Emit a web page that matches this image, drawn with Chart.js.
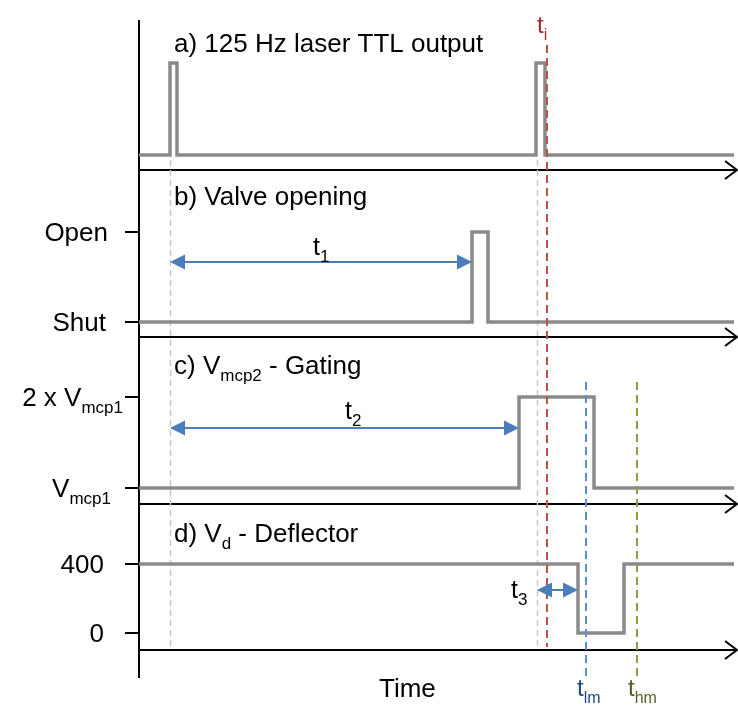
<!DOCTYPE html>
<html>
<head>
<meta charset="utf-8">
<script src="https://cdn.jsdelivr.net/npm/chart.js@4.4.1/dist/chart.umd.min.js"></script>
<style>
  html, body { margin: 0; padding: 0; background: #fff; }
  canvas { display: block; }
</style>
</head>
<body>
<canvas id="timing" width="738" height="707"></canvas>
<script>
// time runs in arbitrary units across the window
const timeMax = 598;

// a) laser TTL output (0 = low, 1 = high)
const ttlTimes = [0, 31, 38, 397, 406, 595];
const ttlLevels = [0, 1, 0, 1, 0, 0];
// b) valve (0 = Shut, 1 = Open)
const valveTimes = [0, 333, 349, 595];
const valveLevels = [0, 1, 0, 0];
// c) Vmcp2 gating, in multiples of Vmcp1
const gateTimes = [0, 380, 455, 595];
const gateLevels = [1, 2, 1, 1];
// d) deflector voltage
const deflTimes = [0, 439, 485, 595];
const deflLevels = [400, 0, 400, 400];

// tick labels on the left
const valveTicks = [1, 0];
const valveTickLabels = ['Open', 'Shut'];
const gateTicks = [2, 1];
const gateTickLabels = ['2 x V_{mcp1}', 'V_{mcp1}'];
const deflTicks = [400, 0];
const deflTickLabels = ['400', '0'];

const panelTitles = ['a) 125 Hz laser TTL output', 'b) Valve opening', 'c) V_{mcp2} - Gating', 'd) V_{d} - Deflector'];

// vertical marker lines
const markerTimes = [31, 398, 408, 447, 498];
const markerLabels = ['', '', 'i', 'lm', 'hm'];

// timing intervals t1, t2, t3
const intervalStart = [31, 31, 398];
const intervalEnd = [333, 380, 439];
const intervalLabels = ['1', '2', '3'];

// ---- layout (pixels) ----
const TOP = 20, BOTTOM = 678, LEFT = 139, RIGHT = 737;
const panels = [
  { id: 'yA', lo: 0,   loPx: 155, hi: 1,   hiPx: 63,  base: 170 },
  { id: 'yB', lo: 0,   loPx: 322, hi: 1,   hiPx: 232, base: 337 },
  { id: 'yC', lo: 1,   loPx: 488, hi: 2,   hiPx: 397, base: 504 },
  { id: 'yD', lo: 0,   loPx: 633, hi: 400, hiPx: 564, base: 650 }
];
const FONT = '"Liberation Sans", Arial, Helvetica, sans-serif';
const TRACE = '#8a8a8a';

function fitRange(p) {
  const k = (p.loPx - p.hiPx) / (p.hi - p.lo);
  return { min: p.lo - (BOTTOM - p.loPx) / k, max: p.hi + (p.hiPx - TOP) / k };
}

// draw text with _{sub} parts
function richWidth(ctx, str, size) {
  const parts = str.split(/_\{([^}]*)\}/);
  let w = 0;
  parts.forEach((s, i) => {
    ctx.font = (i % 2 ? Math.round(size * 0.66) : size) + 'px ' + FONT;
    w += ctx.measureText(s).width;
  });
  return w;
}
function drawRich(ctx, str, x, y, size, color, align) {
  if (align === 'right') x -= richWidth(ctx, str, size);
  const parts = str.split(/_\{([^}]*)\}/);
  ctx.fillStyle = color;
  ctx.textAlign = 'left';
  ctx.textBaseline = 'alphabetic';
  parts.forEach((s, i) => {
    const sub = i % 2 === 1;
    ctx.font = (sub ? Math.round(size * 0.66) : size) + 'px ' + FONT;
    ctx.fillText(s, x, sub ? y + size * 0.28 : y);
    x += ctx.measureText(s).width;
  });
}

function series(times, levels, axis) {
  return {
    data: times.map((t, i) => ({ x: t, y: levels[i] })),
    yAxisID: axis,
    stepped: 'before',
    borderColor: TRACE,
    borderWidth: 3.5,
    borderJoinStyle: 'miter',
    pointRadius: 0,
    fill: false
  };
}

function arrowHead(ctx, tipX, y, dir, len, half) {
  ctx.beginPath();
  ctx.moveTo(tipX, y);
  ctx.lineTo(tipX - dir * len, y - half);
  ctx.lineTo(tipX - dir * len, y + half);
  ctx.closePath();
  ctx.fill();
}

const diagram = {
  id: 'diagram',
  beforeDatasetsDraw(chart) {
    const ctx = chart.ctx;
    ctx.save();
    // frame: left axis and time arrows
    ctx.strokeStyle = '#000';
    ctx.lineWidth = 2;
    ctx.beginPath();
    ctx.moveTo(LEFT, TOP);
    ctx.lineTo(LEFT, BOTTOM);
    panels.forEach(p => {
      ctx.moveTo(LEFT, p.base);
      ctx.lineTo(RIGHT, p.base);
      ctx.moveTo(RIGHT - 12, p.base - 9);
      ctx.lineTo(RIGHT, p.base);
      ctx.lineTo(RIGHT - 12, p.base + 9);
    });
    ctx.stroke();

    // ticks and tick labels
    const tickSets = [
      ['yB', valveTicks, valveTickLabels, [108, 106]],
      ['yC', gateTicks, gateTickLabels, [123, 111]],
      ['yD', deflTicks, deflTickLabels, [104, 104]]
    ];
    tickSets.forEach(([id, vals, labels, rights]) => {
      const sc = chart.scales[id];
      vals.forEach((v, i) => {
        const y = Math.round(sc.getPixelForValue(v));
        ctx.beginPath();
        ctx.moveTo(125, y);
        ctx.lineTo(LEFT, y);
        ctx.stroke();
        drawRich(ctx, labels[i], rights[i], y + 9, 26, '#000', 'right');
      });
    });

    // panel titles
    const titleY = [52, 205, 374, 542];
    panelTitles.forEach((t, i) => drawRich(ctx, t, 174, titleY[i], 26, '#000', 'left'));

    // grey reference lines
    const xs = chart.scales.x;
    ctx.strokeStyle = '#c8c8c8';
    ctx.lineWidth = 1.5;
    ctx.setLineDash([6, 4]);
    [0, 1].forEach(i => {
      const x = Math.round(xs.getPixelForValue(markerTimes[i])) + 0.5;
      ctx.beginPath();
      ctx.moveTo(x, 160);
      ctx.lineTo(x, 650);
      ctx.stroke();
    });
    ctx.restore();
  },
  afterDatasetsDraw(chart) {
    const ctx = chart.ctx;
    const xs = chart.scales.x;
    ctx.save();
    const lineCol = { i: '#c0504d', lm: '#5b8fd0', hm: '#86a040' };
    const textCol = { i: '#a0302c', lm: '#1f497d', hm: '#4f6228' };
    const span = { i: [45, 647], lm: [382, 678], hm: [382, 678] };
    markerTimes.forEach((t, i) => {
      const name = markerLabels[i];
      if (!name) return;
      const x = Math.round(xs.getPixelForValue(t));
      ctx.strokeStyle = lineCol[name];
      ctx.lineWidth = 2;
      ctx.setLineDash([8, 5]);
      ctx.beginPath();
      ctx.moveTo(x, span[name][0]);
      ctx.lineTo(x, span[name][1]);
      ctx.stroke();
      ctx.setLineDash([]);
      if (name === 'i') drawRich(ctx, 't_{i}', x - 10, 33, 24, textCol[name], 'left');
      else drawRich(ctx, 't_{' + name + '}', x - 9, 696, 24, textCol[name], 'left');
    });

    // interval arrows
    const blue = '#4a7ebb';
    const arrowY = [[ 'yB', 0.667 ], [ 'yC', 1.66 ], [ 'yD', 249 ]];
    intervalStart.forEach((t0, i) => {
      const [id, v] = arrowY[i];
      const y = Math.round(chart.scales[id].getPixelForValue(v));
      const x0 = xs.getPixelForValue(t0);
      const x1 = xs.getPixelForValue(intervalEnd[i]);
      ctx.strokeStyle = blue;
      ctx.fillStyle = blue;
      ctx.lineWidth = 2;
      ctx.beginPath();
      ctx.moveTo(x0 + 4, y);
      ctx.lineTo(x1 - 4, y);
      ctx.stroke();
      arrowHead(ctx, x0, y, -1, 15, 7.5);
      arrowHead(ctx, x1, y, 1, 15, 7.5);
    });
    const labelPos = [[313, 255], [345, 419], [511, 598]];
    intervalLabels.forEach((n, i) => drawRich(ctx, 't_{' + n + '}', labelPos[i][0], labelPos[i][1], 25, '#000', 'left'));

    ctx.font = '26px ' + FONT;
    ctx.fillStyle = '#000';
    ctx.textAlign = 'left';
    ctx.fillText('Time', 379, 697);
    ctx.restore();
  }
};

const scales = {
  x: { type: 'linear', min: 0, max: timeMax, display: false }
};
panels.forEach(p => {
  const r = fitRange(p);
  scales[p.id] = { type: 'linear', min: r.min, max: r.max, display: false };
});

new Chart(document.getElementById('timing'), {
  type: 'line',
  data: {
    datasets: [
      series(ttlTimes, ttlLevels, 'yA'),
      series(valveTimes, valveLevels, 'yB'),
      series(gateTimes, gateLevels, 'yC'),
      series(deflTimes, deflLevels, 'yD')
    ]
  },
  options: {
    responsive: false,
    devicePixelRatio: 1,
    animation: false,
    layout: { padding: { left: LEFT, top: TOP, right: 738 - RIGHT, bottom: 707 - BOTTOM } },
    plugins: { legend: { display: false }, tooltip: { enabled: false } },
    scales: scales
  },
  plugins: [diagram]
});
</script>
</body>
</html>
